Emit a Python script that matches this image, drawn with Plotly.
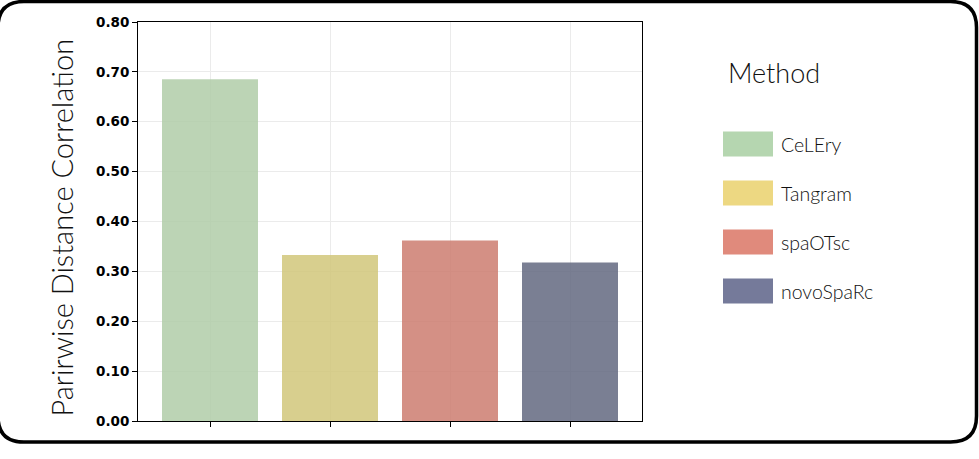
#!/usr/bin/env python3

"""
pairwise distance correlation per method
"""

import plotly.graph_objects as go

# ---------------------------------------------------------------------------
# data
# ---------------------------------------------------------------------------
methods = ["CeLEry", "Tangram", "spaOTsc", "novoSpaRc"]
pdc_values = [0.685, 0.333, 0.362, 0.318]
y_ticks = [0.0, 0.1, 0.2, 0.3, 0.4, 0.5, 0.6, 0.7, 0.8]
y_ticktext = [f"{v:.2f}" for v in y_ticks]
y_label = "Parirwise Distance Correlation"
legend_title = "Method"

# bar fill (translucent) and legend swatch colors
BAR_COLORS = [
    "rgba(176,204,168,0.85)",
    "rgba(209,199,122,0.85)",
    "rgba(204,124,112,0.85)",
    "rgba(99,104,128,0.85)",
]
SWATCH_COLORS = ["#B5D6B0", "#EDD882", "#E08A7C", "#757A9A"]

# ---------------------------------------------------------------------------
# layout geometry (pixels)
# ---------------------------------------------------------------------------
W, H = 979, 459
L, R, T, B = 138, 337, 22, 38
PW, PH = W - L - R, H - T - B

LIGHT = "Lato, Open Sans, sans-serif"


def px(x, y):
    """pixel position (from top-left of page) -> paper coords"""
    return (x - L) / PW, (H - B - y) / PH


fig = go.Figure()
fig.add_trace(
    go.Bar(
        x=list(range(len(methods))),
        y=pdc_values,
        width=0.8,
        marker=dict(color=BAR_COLORS, line=dict(width=0)),
        showlegend=False,
        hoverinfo="y",
    )
)

fig.update_xaxes(
    range=[-0.6, len(methods) - 0.4],
    tickvals=list(range(len(methods))),
    showticklabels=False,
    ticks="outside",
    ticklen=5,
    tickcolor="black",
    showgrid=True,
    gridcolor="#EBEBEB",
    showline=True,
    linecolor="black",
    linewidth=1,
    mirror=True,
    zeroline=False,
)
fig.update_yaxes(
    range=[0, 0.8],
    tickvals=y_ticks,
    ticktext=y_ticktext,
    ticks="outside",
    ticklen=5,
    tickcolor="black",
    tickfont=dict(family="DejaVu Sans", size=13.5, color="black", weight="bold"),
    showgrid=True,
    gridcolor="#EBEBEB",
    showline=True,
    linecolor="black",
    linewidth=1,
    mirror=True,
    zeroline=False,
)

shapes = []
annotations = []

# y axis label, placed as rotated text
tx, ty = px(61, 227.5)
annotations.append(
    dict(
        x=tx, y=ty, xref="paper", yref="paper", text=y_label, textangle=-90,
        showarrow=False, xanchor="center", yanchor="middle",
        font=dict(family=LIGHT, size=29, color="#111111", weight=300),
    )
)

# custom legend: big swatches + labels
x0, y0 = px(725.5, 72)
annotations.append(
    dict(
        x=x0, y=y0, xref="paper", yref="paper", text=legend_title,
        showarrow=False, xanchor="left", yanchor="middle",
        font=dict(family=LIGHT, size=27, color="#111111", weight=300),
    )
)
for i, (name, col) in enumerate(zip(methods, SWATCH_COLORS)):
    top = 131.5 + i * 49
    ax0, ay0 = px(723, top)
    ax1, ay1 = px(773, top + 25)
    shapes.append(
        dict(type="rect", xref="paper", yref="paper", x0=ax0, y0=ay1, x1=ax1, y1=ay0,
             fillcolor=col, line=dict(width=0), layer="above")
    )
    tx, ty = px(779, top + 12.5)
    annotations.append(
        dict(
            x=tx, y=ty, xref="paper", yref="paper", text=name,
            showarrow=False, xanchor="left", yanchor="middle",
            font=dict(family=LIGHT, size=19.5, color="#111111", weight=300),
        )
    )

# rounded outer frame
fl, ft, fr, fb, rad = -2, 1.5, 976.5, 442, 26
pts = [
    ("M", fl + rad, ft), ("L", fr - rad, ft), ("Q", fr, ft, fr, ft + rad),
    ("L", fr, fb - rad), ("Q", fr, fb, fr - rad, fb), ("L", fl + rad, fb),
    ("Q", fl, fb, fl, fb - rad), ("L", fl, ft + rad), ("Q", fl, ft, fl + rad, ft),
]
path = ""
for seg in pts:
    cmd, *c = seg
    coords = []
    for k in range(0, len(c), 2):
        a, b = px(c[k], c[k + 1])
        coords.append(f"{a:.5f},{b:.5f}")
    path += cmd + " ".join(coords) + " "
shapes.append(
    dict(type="path", xref="paper", yref="paper", path=path + "Z",
         line=dict(color="black", width=3.5), layer="above")
)

fig.update_layout(
    width=W,
    height=H,
    margin=dict(l=L, r=R, t=T, b=B, pad=0),
    plot_bgcolor="white",
    paper_bgcolor="white",
    bargap=0.2,
    shapes=shapes,
    annotations=annotations,
)
# page body margin off so the figure sits at the window's top-left corner
fig.write_html(
    "out.html",
    config={"displayModeBar": False},
    post_script="document.body.style.margin = '0';",
)
